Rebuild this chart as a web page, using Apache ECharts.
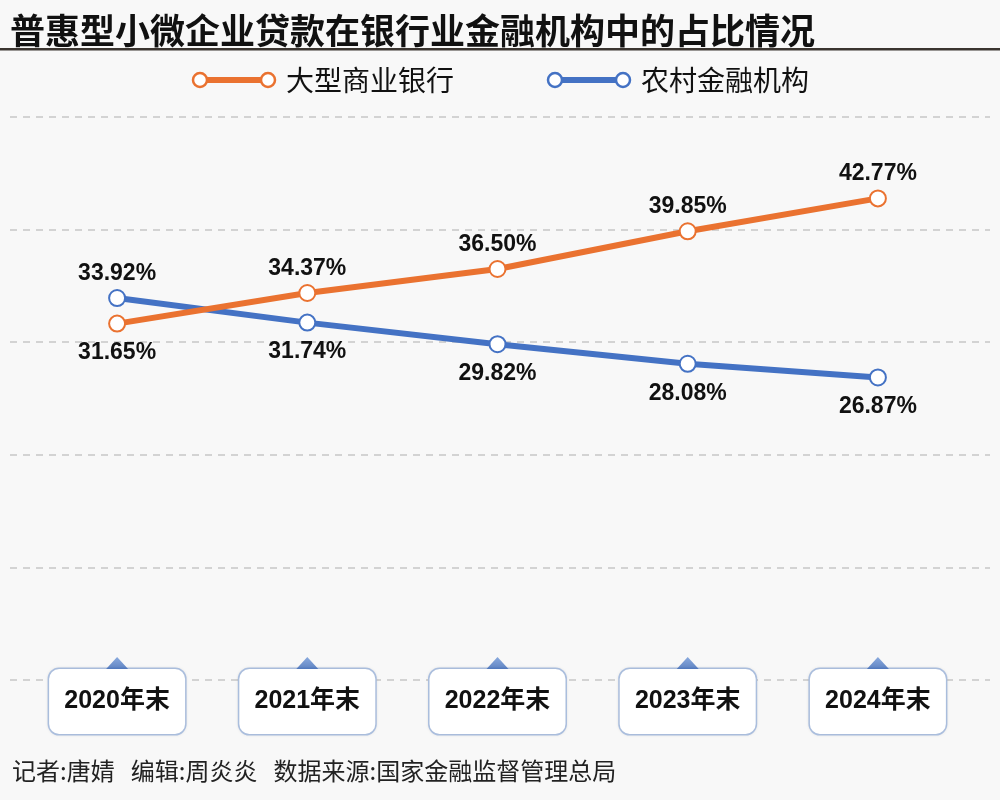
<!DOCTYPE html>
<html>
<head>
    <meta charset="UTF-8">
    <title>普惠型小微企业贷款占比</title>
    <script src="https://cdn.jsdelivr.net/npm/echarts@6/dist/echarts.min.js"></script>
    <style>
        html, body { margin: 0; padding: 0; background: #f8f8f8; }
        #chart { width: 1000px; height: 800px; }
    </style>
</head>
<body>
<div id="chart"></div>
<script>
    var years = ['2020年末', '2021年末', '2022年末', '2023年末', '2024年末'];
    var bigBanks = [31.65, 34.37, 36.50, 39.85, 42.77];
    var ruralInst = [33.92, 31.74, 29.82, 28.08, 26.87];
    var yTicks = [0, 10, 20, 30, 40, 50];

    var ORANGE = '#ea7230';
    var BLUE = '#4472c4';
    var NUM_FONT = "'Liberation Sans', 'Noto Sans CJK SC', sans-serif";
    var CJK_FONT = "'Noto Sans CJK SC', sans-serif";

    function legendIcon(color) {
        var svg = '<svg xmlns="http://www.w3.org/2000/svg" width="86" height="18">' +
            '<line x1="9" y1="9" x2="77" y2="9" stroke="' + color + '" stroke-width="6"/>' +
            '<circle cx="9" cy="9" r="7" fill="#fff" stroke="' + color + '" stroke-width="2.5"/>' +
            '<circle cx="77" cy="9" r="7" fill="#fff" stroke="' + color + '" stroke-width="2.5"/>' +
            '</svg>';
        return 'image://data:image/svg+xml;charset=utf-8,' + encodeURIComponent(svg);
    }

    // first point has its label flipped so the two series don't collide
    function labelled(values, normalPos, firstPos) {
        return values.map(function (v, i) {
            var pos = i === 0 ? firstPos : normalPos;
            return { value: v, label: { position: pos, distance: pos === 'top' ? 4 : 9 } };
        });
    }

    var chart = echarts.init(document.getElementById('chart'), null, { renderer: 'canvas' });

    var pointLabel = {
        show: true,
        fontFamily: NUM_FONT,
        fontSize: 23,
        fontWeight: 'bold',
        color: '#111',
        formatter: function (p) { return p.value.toFixed(2) + '%'; }
    };

    chart.setOption({
        backgroundColor: '#f8f8f8',
        animation: false,
        title: {
            text: '普惠型小微企业贷款在银行业金融机构中的占比情况',
            left: 5,
            top: 8,
            textStyle: { fontFamily: CJK_FONT, fontSize: 35, fontWeight: 'bold', color: '#111' }
        },
        graphic: [{
            type: 'rect',
            shape: { x: 0, y: 48, width: 1000, height: 2.5 },
            style: { fill: '#3b3530' }
        }, {
            type: 'text',
            left: 12,
            top: 759,
            style: {
                text: '记者:唐婧   编辑:周炎炎   数据来源:国家金融监督管理总局',
                font: '24px ' + CJK_FONT,
                fill: '#222'
            }
        }],
        legend: {
            top: 61,
            left: 'center',
            itemWidth: 86,
            itemHeight: 18,
            itemGap: 92,
            textStyle: { fontFamily: CJK_FONT, fontSize: 28, color: '#111', padding: [0, 0, 0, 4] },
            data: [
                { name: '大型商业银行', icon: legendIcon(ORANGE) },
                { name: '农村金融机构', icon: legendIcon(BLUE) }
            ]
        },
        grid: [
            { left: 22, right: 27, top: 117, bottom: 120 },
            { left: 10, right: 10, top: 117, bottom: 120 }
        ],
        xAxis: [{
            type: 'category',
            gridIndex: 0,
            data: years,
            boundaryGap: true,
            axisLine: { show: false },
            axisTick: { show: false },
            splitLine: { show: false },
            axisLabel: {
                margin: -11,
                fontFamily: NUM_FONT,
                fontSize: 25,
                fontWeight: 'bold',
                color: '#111',
                backgroundColor: '#ffffff',
                borderColor: '#aec2e2',
                borderWidth: 1.5,
                borderRadius: 10,
                width: 136,
                height: 65,
                lineHeight: 65,
                align: 'center',
                shadowColor: 'rgba(0,0,0,0.08)',
                shadowBlur: 3
            }
        }, {
            type: 'category',
            gridIndex: 1,
            data: years,
            show: false
        }],
        yAxis: [{
            type: 'value',
            gridIndex: 0,
            min: yTicks[0],
            max: yTicks[yTicks.length - 1],
            interval: 10,
            axisLabel: { show: false },
            axisLine: { show: false },
            axisTick: { show: false },
            splitLine: { show: false }
        }, {
            type: 'value',
            gridIndex: 1,
            min: yTicks[0],
            max: yTicks[yTicks.length - 1],
            interval: 10,
            axisLabel: { show: false },
            axisLine: { show: false },
            axisTick: { show: false },
            splitLine: { show: true, lineStyle: { type: [7, 6], color: '#c6c6c6', width: 1.5 } }
        }],
        series: [{
            // little pointer triangles sitting on top of each year box
            type: 'scatter',
            xAxisIndex: 0,
            yAxisIndex: 0,
            data: years.map(function () { return 0; }),
            symbol: 'triangle',
            symbolSize: [22, 12],
            symbolOffset: [0, -17],
            silent: true,
            z: 1,
            itemStyle: {
                color: new echarts.graphic.LinearGradient(0, 0, 0, 1, [
                    { offset: 0, color: '#6f97d8' },
                    { offset: 1, color: '#3a67b5' }
                ])
            }
        }, {
            name: '大型商业银行',
            type: 'line',
            xAxisIndex: 0,
            yAxisIndex: 0,
            data: labelled(bigBanks, 'top', 'bottom'),
            symbol: 'circle',
            symbolSize: 16,
            lineStyle: { color: ORANGE, width: 6 },
            itemStyle: { color: '#fff', borderColor: ORANGE, borderWidth: 2 },
            label: pointLabel,
            z: 3
        }, {
            name: '农村金融机构',
            type: 'line',
            xAxisIndex: 0,
            yAxisIndex: 0,
            data: labelled(ruralInst, 'bottom', 'top'),
            symbol: 'circle',
            symbolSize: 16,
            lineStyle: { color: BLUE, width: 6 },
            itemStyle: { color: '#fff', borderColor: BLUE, borderWidth: 2 },
            label: pointLabel,
            z: 2
        }]
    });
</script>
</body>
</html>
